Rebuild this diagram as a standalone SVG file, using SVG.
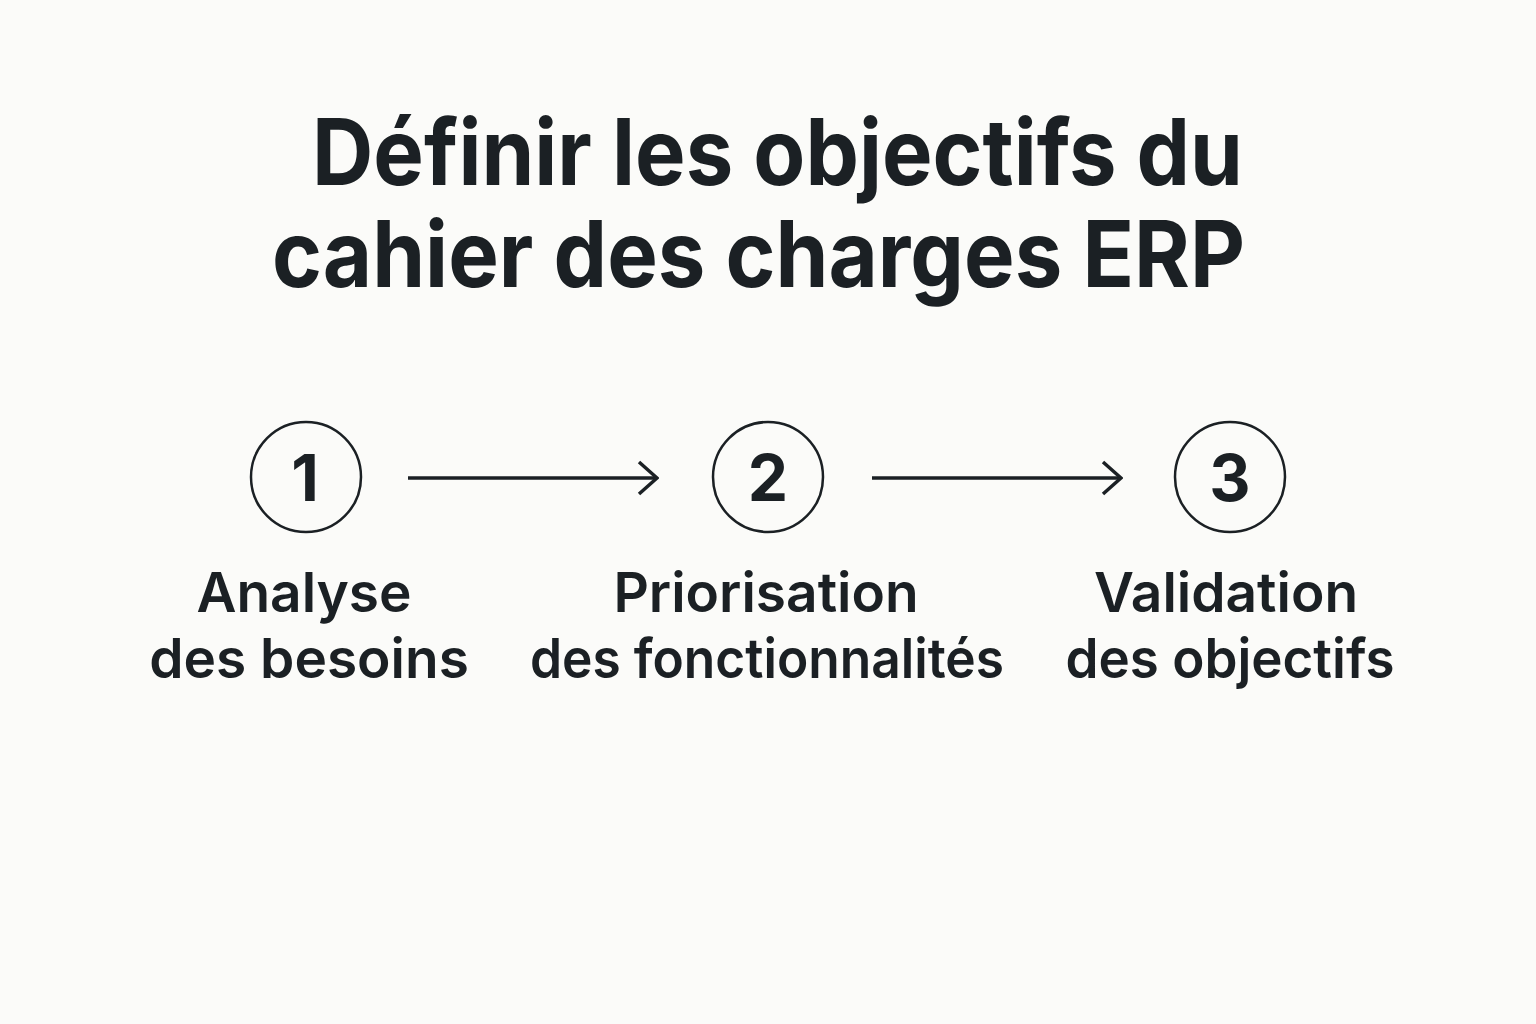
<svg xmlns="http://www.w3.org/2000/svg" width="1536" height="1024" viewBox="0 0 1536 1024">
<defs>
<style>
.title{font-family:Inter,"Liberation Sans",sans-serif;font-weight:700;font-size:92px;fill:#1b2024}
.num{font-family:Inter,"Liberation Sans",sans-serif;font-weight:700;font-size:64px;fill:#1b2024;text-anchor:middle}
.lbl{font-family:Inter,"Liberation Sans",sans-serif;font-weight:600;font-size:55px;fill:#1b2024;text-anchor:middle}
.ring{fill:none;stroke:#1b2024;stroke-width:2.5}
.conn{fill:none;stroke:#1b2024;stroke-width:3.5}
</style>
<marker id="chev" viewBox="0 0 24 36" refX="22" refY="18" markerWidth="24" markerHeight="36" markerUnits="userSpaceOnUse" orient="auto">
<path d="M4 2 L22 18 L4 34" fill="none" stroke="#1b2024" stroke-width="3.5" stroke-linecap="butt"/>
</marker>
</defs>
<rect width="1536" height="1024" fill="#fbfbf9"/>
<g id="title">
<text class="title" x="312" y="185" textLength="931" lengthAdjust="spacingAndGlyphs">Définir les objectifs du</text>
<text class="title" x="272" y="287" textLength="973" lengthAdjust="spacingAndGlyphs">cahier des charges ERP</text>
</g>
<g id="connectors">
<line class="conn" x1="408" y1="478" x2="657" y2="478" marker-end="url(#chev)"/>
<line class="conn" x1="872" y1="478" x2="1121" y2="478" marker-end="url(#chev)"/>
</g>
<g id="step1">
<circle class="ring" cx="306" cy="477" r="55"/>
<text class="num" x="305" y="501">1</text>
<text class="lbl" x="304" y="612">Analyse</text>
<text class="lbl" x="309" y="678">des besoins</text>
</g>
<g id="step2">
<circle class="ring" cx="768" cy="477" r="55"/>
<text class="num" x="768" y="501">2</text>
<text class="lbl" x="766" y="612">Priorisation</text>
<text class="lbl" x="767" y="678" textLength="474" lengthAdjust="spacingAndGlyphs">des fonctionnalités</text>
</g>
<g id="step3">
<circle class="ring" cx="1230" cy="477" r="55"/>
<text class="num" x="1230" y="501">3</text>
<text class="lbl" x="1226" y="612">Validation</text>
<text class="lbl" x="1230" y="678" textLength="329" lengthAdjust="spacingAndGlyphs">des objectifs</text>
</g>
</svg>
